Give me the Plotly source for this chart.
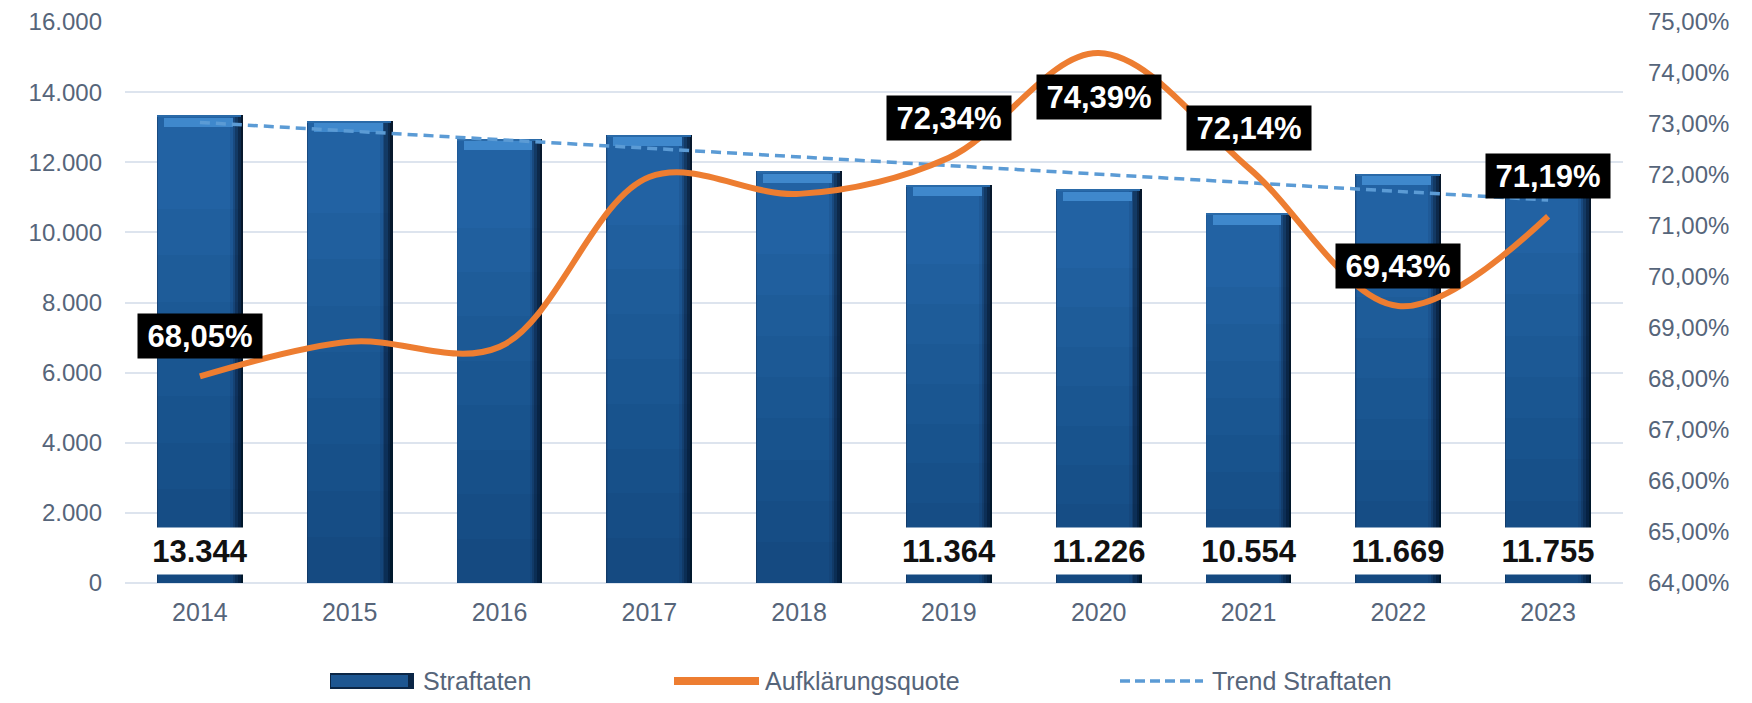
import numpy as np
import plotly.graph_objects as go

# ---------------- data ----------------
years = ["2014", "2015", "2016", "2017", "2018", "2019", "2020", "2021", "2022", "2023"]
straftaten = [13344, 13190, 12670, 12780, 11740, 11364, 11226, 10554, 11669, 11755]
aufklaerungsquote = [68.05, 68.73, 68.63, 71.96, 71.63, 72.34, 74.39, 72.14, 69.43, 71.19]  # percent
labeled_years = ["2014", "2019", "2020", "2021", "2022", "2023"]
left_ticks = [0, 2000, 4000, 6000, 8000, 10000, 12000, 14000, 16000]
right_ticks = [64, 65, 66, 67, 68, 69, 70, 71, 72, 73, 74, 75]

# linear trend (as in the spreadsheet trendline)
xi = np.arange(len(years))
slope, intercept = np.polyfit(xi, straftaten, 1)
trend = [float(t) for t in intercept + slope * xi]

# ---------------- style ----------------
FONT = "Liberation Sans, Arial, sans-serif"
TICK_COLOR = "#56657a"
GRID = "#dde4ee"
ORANGE = "#ed7d31"
TREND = "#5b9bd5"
BODY = 8  # default page margin around the figure
W, H = 1752 - 2 * BODY, 703 - 2 * BODY
ML, MT = 125 - BODY, 22 - BODY
PW, PH = 1498, 561
MR, MB = W - ML - PW, H - MT - PH

fig = go.Figure()

# bar layers simulating the bevelled / shaded column look
layers = [
    (0.574, -0.287, "#07182c"),
    (0.558, -0.287, "#0d294a"),
    (0.540, -0.287, "#133a65"),
    (0.518, -0.286, "#194a80"),
    (0.500, -0.281, "#1f5a98"),
    (0.480, -0.279, "#2262a3"),
]
for w, off, col in layers:
    fig.add_trace(go.Bar(
        x=years, y=straftaten, width=w, offset=off,
        marker=dict(color=col, line=dict(width=0)),
        name="Straftaten", showlegend=False, hoverinfo="skip", yaxis="y",
    ))

# vertical darkening towards the bottom
for k in (0.1, 0.2, 0.3, 0.4, 0.5, 0.6, 0.7, 0.8):
    fig.add_trace(go.Bar(
        x=years, y=[v * k for v in straftaten], width=0.574, offset=-0.287,
        marker=dict(color="rgba(4,18,40,0.04)", line=dict(width=0)),
        showlegend=False, hoverinfo="skip",
    ))

# top bevel
fig.add_trace(go.Bar(
    x=years, y=[60] * len(years), base=[v - 60 for v in straftaten],
    width=0.560, offset=-0.284,
    marker=dict(color="#2a6aa8", line=dict(width=0)),
    showlegend=False, hoverinfo="skip",
))
fig.add_trace(go.Bar(
    x=years, y=[260] * len(years), base=[v - 330 for v in straftaten],
    width=0.46, offset=-0.24,
    marker=dict(color="#3f88cc", line=dict(width=0)),
    showlegend=False, hoverinfo="skip",
))

# trend line
fig.add_trace(go.Scatter(
    x=years, y=trend, mode="lines", yaxis="y",
    line=dict(color=TREND, width=3.5, dash="10px,6px"),
    name="Trend Straftaten", showlegend=False, hoverinfo="skip",
))

# Aufklärungsquote
fig.add_trace(go.Scatter(
    x=years, y=[v / 100 for v in aufklaerungsquote], mode="lines", yaxis="y2",
    line=dict(color=ORANGE, width=6, shape="spline", smoothing=1.0),
    name="Aufklärungsquote", showlegend=False, hoverinfo="skip",
))

annotations = []
for i, (y, v, q) in enumerate(zip(years, straftaten, aufklaerungsquote)):
    if y not in labeled_years:
        continue
    annotations.append(dict(
        x=i, y=0, xref="x", yref="y", yshift=32,
        text=f"{v:,}".replace(",", "."), showarrow=False,
        font=dict(family=FONT, size=31, color="#111111", weight="bold"),
        bgcolor="#ffffff", width=100, height=40, borderpad=3,
    ))
    annotations.append(dict(
        x=i, y=q / 100, xref="x", yref="y2", yshift=(-44 if y == "2020" else 40),
        text=f"{q:.2f}".replace(".", ",") + "%", showarrow=False,
        font=dict(family=FONT, size=31, color="#ffffff", weight="bold"),
        bgcolor="#000000", width=118, height=38, borderpad=3,
    ))

# manual legend (page pixel -> paper coordinates)
def px(X):
    return (X - BODY - ML) / PW

def py(Y):
    return (H - MB - (Y - BODY)) / PH

LEG_Y = 681
shapes = [
    dict(type="rect", xref="paper", yref="paper", x0=px(330), x1=px(414), y0=py(LEG_Y + 8), y1=py(LEG_Y - 8),
         fillcolor="#0b2646", line=dict(width=0), layer="above"),
    dict(type="rect", xref="paper", yref="paper", x0=px(331), x1=px(408), y0=py(LEG_Y + 6), y1=py(LEG_Y - 6),
         fillcolor="#1d5691", line=dict(width=0), layer="above"),
    dict(type="line", xref="paper", yref="paper", x0=px(674), x1=px(759), y0=py(LEG_Y), y1=py(LEG_Y),
         line=dict(color=ORANGE, width=8), layer="above"),
    dict(type="line", xref="paper", yref="paper", x0=px(1120), x1=px(1203), y0=py(LEG_Y), y1=py(LEG_Y),
         line=dict(color=TREND, width=3.5, dash="10px,5px"), layer="above"),
]
for X, label in [(421, "Straftaten"), (763, "Aufklärungsquote"), (1210, "Trend Straftaten")]:
    annotations.append(dict(
        x=px(X), y=py(LEG_Y), xref="paper", yref="paper", xanchor="left", yanchor="middle",
        text=label, showarrow=False, font=dict(family=FONT, size=25, color=TICK_COLOR),
    ))

fig.update_layout(
    width=W, height=H,
    margin=dict(l=ML, r=MR, t=MT, b=MB, autoexpand=False),
    paper_bgcolor="#ffffff", plot_bgcolor="#ffffff",
    barmode="overlay", bargap=0,
    separators=",.",
    showlegend=False,
    font=dict(family=FONT, color=TICK_COLOR),
    xaxis=dict(
        type="category", range=[-0.5, len(years) - 0.5], autorange=False,
        showgrid=False, zeroline=False, showline=False, ticks="", automargin=False,
        tickfont=dict(family=FONT, size=25, color=TICK_COLOR), ticklabelstandoff=12,
    ),
    yaxis=dict(
        range=[0, 16000], autorange=False, tickvals=left_ticks, tickformat=",d",
        showgrid=True, gridcolor=GRID, gridwidth=1.5, automargin=False,
        zeroline=True, zerolinecolor=GRID, zerolinewidth=1.5, showline=False, ticks="",
        tickfont=dict(family=FONT, size=24, color=TICK_COLOR), ticklabelstandoff=22,
        ticklabeloverflow="allow",
    ),
    yaxis2=dict(
        overlaying="y", side="right", range=[0.64, 0.75], autorange=False,
        tickvals=[t / 100 for t in right_ticks], tickformat=".2%", automargin=False,
        showgrid=False, zeroline=False, showline=False, ticks="",
        tickfont=dict(family=FONT, size=24, color=TICK_COLOR), ticklabelstandoff=24,
        ticklabeloverflow="allow",
    ),
    annotations=annotations,
    shapes=shapes,
)

fig.write_html("out.html")
